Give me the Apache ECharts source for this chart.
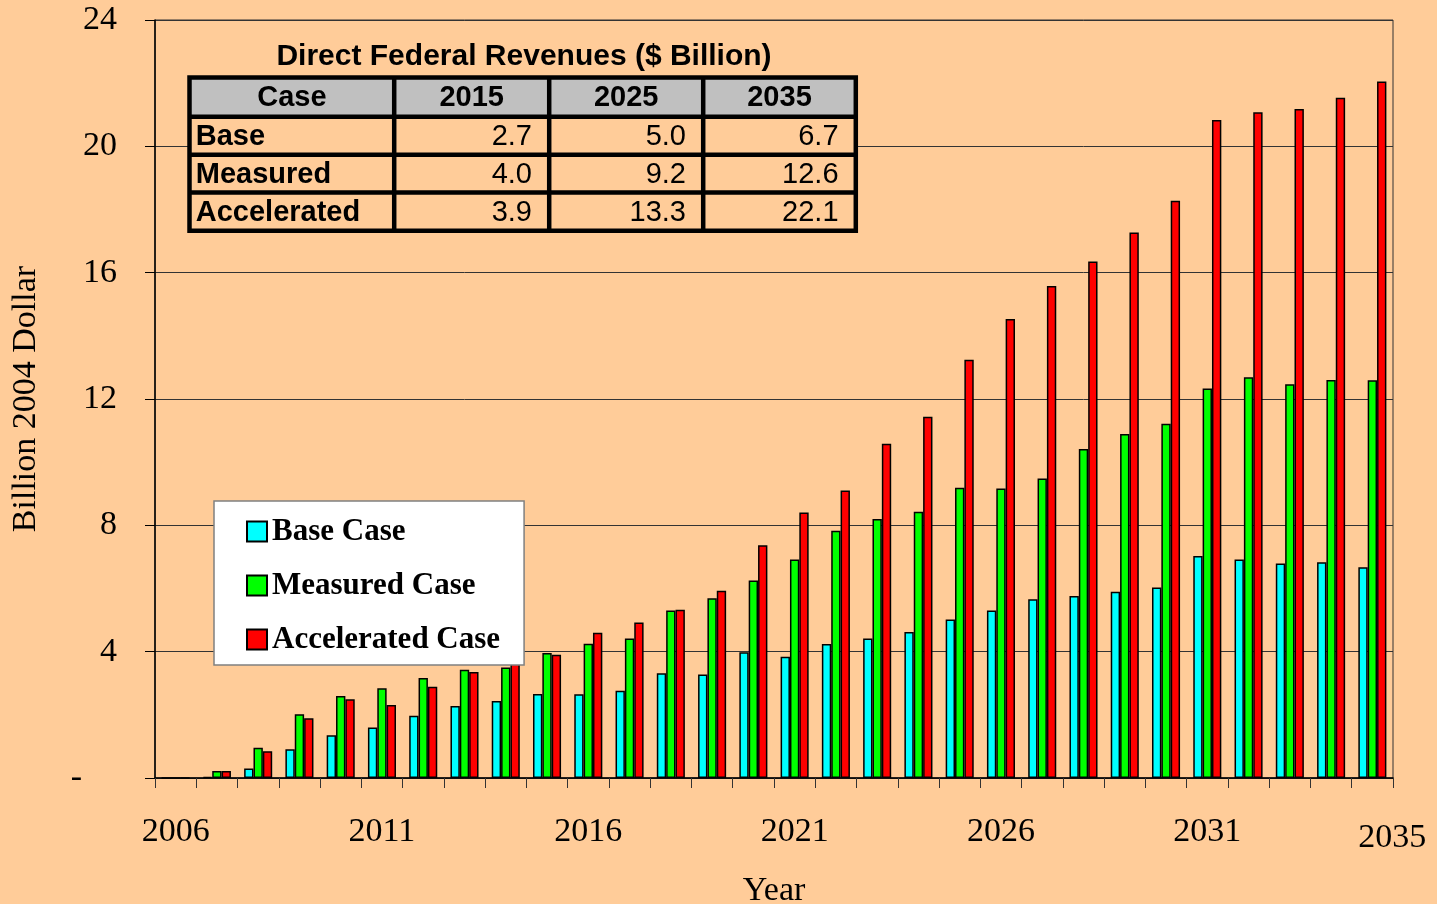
<!doctype html>
<html lang="en">
<head>
<meta charset="UTF-8">
<title>Direct Federal Revenues</title>
<style>
  html, body { margin: 0; padding: 0; background: #FFCC99; }
  #main { width: 1437px; height: 904px; }
</style>
</head>
<body>
<div id="main"></div>
<script src="https://cdn.jsdelivr.net/npm/echarts@6/dist/echarts.min.js"></script>
<script type="text/javascript">
// data (billion 2004 dollars)
var years = ['2006','2007','2008','2009','2010','2011','2012','2013','2014','2015',
             '2016','2017','2018','2019','2020','2021','2022','2023','2024','2025',
             '2026','2027','2028','2029','2030','2031','2032','2033','2034','2035'];
var baseCase = [0, 0.03, 0.3, 0.91, 1.35, 1.6, 1.97, 2.28, 2.44, 2.66,
                2.65, 2.76, 3.32, 3.28, 3.98, 3.84, 4.24, 4.42, 4.62, 5.02,
                5.3, 5.66, 5.76, 5.9, 6.03, 7.03, 6.92, 6.79, 6.83, 6.67];
var measuredCase = [0, 0.22, 0.96, 2.02, 2.6, 2.84, 3.17, 3.43, 3.5, 3.96,
                    4.25, 4.42, 5.3, 5.69, 6.25, 6.92, 7.83, 8.2, 8.43, 9.19,
                    9.17, 9.48, 10.42, 10.89, 11.22, 12.33, 12.69, 12.47, 12.6, 12.59];
var acceleratedCase = [0, 0.22, 0.85, 1.89, 2.49, 2.31, 2.89, 3.36, 3.8, 3.9,
                       4.6, 4.92, 5.33, 5.93, 7.37, 8.41, 9.1, 10.58, 11.44, 13.24,
                       14.53, 15.58, 16.35, 17.27, 18.28, 20.83, 21.08, 21.18, 21.54, 22.05];
var seriesNames = ['Base Case', 'Measured Case', 'Accelerated Case'];
var xLabelYears = ['2006','2011','2016','2021','2026','2031','2035'];

// inset table
var tableTitle = 'Direct Federal Revenues ($ Billion)';
var tableHeader = ['Case', '2015', '2025', '2035'];
var tableRows = ['Base', 'Measured', 'Accelerated'];
var tableValues = [['2.7', '5.0', '6.7'],
                   ['4.0', '9.2', '12.6'],
                   ['3.9', '13.3', '22.1']];

// layout of the table (pixel centres of the ruling lines)
var colLines = [189.5, 394.2, 549.2, 703.2, 855.8];
var rowLines = [77.5, 116.7, 154.7, 192.5, 230.8];
var rule = 4.5;

var serif = '"Liberation Serif", "Times New Roman", serif';
var sans = '"Liberation Sans", Arial, sans-serif';

function buildTable() {
  var els = [];
  // black block, cells are laid on top so the gaps become the rules
  els.push({
    type: 'rect', z: 100,
    shape: { x: colLines[0] - rule / 2, y: rowLines[0] - rule / 2,
             width: colLines[4] - colLines[0] + rule, height: rowLines[4] - rowLines[0] + rule },
    style: { fill: '#000' }
  });
  for (var r = 0; r < 4; r++) {
    for (var c = 0; c < 4; c++) {
      var x0 = colLines[c] + rule / 2, x1 = colLines[c + 1] - rule / 2;
      var y0 = rowLines[r] + rule / 2, y1 = rowLines[r + 1] - rule / 2;
      els.push({
        type: 'rect', z: 101,
        shape: { x: x0, y: y0, width: x1 - x0, height: y1 - y0 },
        style: { fill: r === 0 ? '#C0C0C0' : '#FFCC99' }
      });
      var txt, align, tx, bold;
      if (r === 0) { txt = tableHeader[c]; align = 'center'; tx = (x0 + x1) / 2; bold = true; }
      else if (c === 0) { txt = tableRows[r - 1]; align = 'left'; tx = x0 + 4; bold = true; }
      else { txt = tableValues[r - 1][c - 1]; align = 'right'; tx = x1 - 15; bold = false; }
      els.push({
        type: 'text', z: 102, x: tx, y: (y0 + y1) / 2 + 1,
        style: { text: txt, align: align, verticalAlign: 'middle', fill: '#000',
                 font: (bold ? 'bold 29px ' : '29px ') + sans }
      });
    }
  }
  els.push({
    type: 'text', z: 102, x: 524, y: 57,
    style: { text: tableTitle, align: 'center', verticalAlign: 'middle', fill: '#000',
             font: 'bold 30px ' + sans }
  });
  return els;
}

var myChart = echarts.init(document.getElementById('main'));

var barStyle = function (color) {
  return { color: color, borderColor: '#000', borderWidth: 1.5 };
};

var option = {
  backgroundColor: '#FFCC99',
  animation: false,
  grid: {
    left: 155, right: 44, top: 20, bottom: 126,
    outerBoundsMode: 'none',
    containLabel: false,
    show: true, borderColor: '#333', borderWidth: 1
  },
  legend: {
    orient: 'vertical',
    left: 214, top: 501,
    backgroundColor: '#fff',
    borderColor: '#808080', borderWidth: 1.5,
    padding: [15, 24, 10, 32],
    itemGap: 23,
    itemWidth: 20, itemHeight: 20,
    icon: 'rect',
    data: seriesNames,
    textStyle: { fontFamily: serif, fontWeight: 'bold', fontSize: 31, color: '#000' }
  },
  xAxis: {
    type: 'category',
    data: years,
    name: 'Year',
    nameLocation: 'middle',
    nameGap: 96,
    nameTextStyle: { fontFamily: serif, fontSize: 34, color: '#000' },
    axisLine: { lineStyle: { color: '#000', width: 1.5 } },
    axisTick: { show: true, interval: 0, length: 10, lineStyle: { color: '#333' } },
    axisLabel: {
      interval: function (i) { return xLabelYears.indexOf(years[i]) >= 0; },
      formatter: function (v, i) { return i === years.length - 1 ? '{r|' + v + '}' : v; },
      rich: { r: { fontFamily: serif, fontSize: 34, color: '#000', padding: [6, 0, 0, 40] } },
      margin: 37,
      fontFamily: serif, fontSize: 34, color: '#000'
    }
  },
  yAxis: {
    type: 'value',
    min: 0, max: 24, interval: 4,
    name: 'Billion 2004 Dollar',
    nameLocation: 'middle',
    nameGap: 112,
    nameTextStyle: { fontFamily: serif, fontSize: 34, color: '#000' },
    axisLine: { show: true, lineStyle: { color: '#000', width: 1.5 } },
    axisTick: { show: true, length: 10, lineStyle: { color: '#000' } },
    splitLine: { lineStyle: { color: '#333', width: 1 } },
    axisLabel: {
      margin: 38,
      fontFamily: serif, fontSize: 34, color: '#000',
      formatter: function (v) { return v === 0 ? '{d|-}' : String(v); },
      rich: { d: { fontFamily: serif, fontSize: 34, color: '#000', padding: [0, 35, 0, 0] } }
    }
  },
  series: [
    { name: seriesNames[0], type: 'bar', data: baseCase, barGap: '0%', barCategoryGap: '32%',
      itemStyle: barStyle('#00FFFF') },
    { name: seriesNames[1], type: 'bar', data: measuredCase, barGap: '0%', barCategoryGap: '32%',
      itemStyle: barStyle('#00FF00') },
    { name: seriesNames[2], type: 'bar', data: acceleratedCase, barGap: '0%', barCategoryGap: '32%',
      itemStyle: barStyle('#FF0000') }
  ],
  graphic: buildTable()
};

myChart.setOption(option);
</script>
</body>
</html>
